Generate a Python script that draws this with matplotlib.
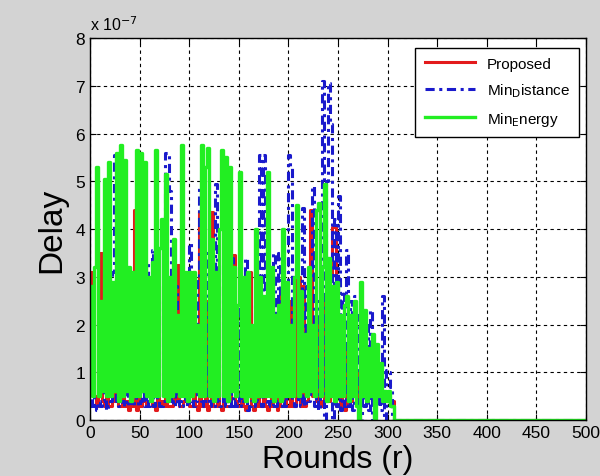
import numpy as np
import matplotlib
matplotlib.use('Agg')
import matplotlib.pyplot as plt

plt.rcParams['font.family'] = ['Liberation Sans', 'DejaVu Sans']

# delay values in units of 1e-7, one value every 2 rounds (0..304), then zero
proposed = [3.1, 2.8, 0.5, 0.3, 1.5, 3.5, 0.4, 0.3, 2.0, 0.3,
            0.3, 2.5, 0.4, 4.4, 0.3, 0.3, 3.2, 0.3, 0.4, 0.2,
            3.0, 0.3, 4.4, 0.2, 1.6, 0.3, 0.4, 3.3, 0.3, 0.4,
            2.5, 0.3, 0.3, 0.2, 2.8, 0.3, 0.4, 0.3, 3.0, 0.3,
            0.3, 0.3, 2.5, 0.4, 3.25, 0.3, 0.3, 0.4, 1.6, 1.5,
            0.3, 0.3, 2.0, 0.3, 0.2, 4.35, 0.3, 0.3, 2.5, 0.2,
            0.3, 4.35, 0.3, 0.3, 2.0, 0.3, 0.2, 2.8, 0.3, 0.3,
            0.3, 2.0, 3.45, 0.4, 0.3, 0.3, 2.2, 0.3, 0.2, 3.1,
            3.1, 0.3, 0.2, 0.3, 2.5, 0.3, 0.3, 2.0, 0.3, 0.2,
            0.3, 2.5, 0.3, 0.3, 0.2, 2.6, 0.3, 0.3, 1.8, 0.3,
            0.3, 2.5, 0.3, 0.3, 3.0, 3.0, 0.3, 2.8, 0.3, 0.4,
            2.5, 4.4, 0.5, 1.7, 0.4, 2.0, 0.3, 0.4, 2.5, 0.4,
            0.4, 3.0, 4.05, 4.05, 0.3, 0.3, 2.0, 0.3, 0.2, 1.6,
            0.3, 0.4, 1.2, 0.5, 0.4, 1.0, 0.5, 0.6, 1.1, 0.5,
            0.8, 1.0, 0.4, 0.8, 0.9, 0.8, 0.5, 0.6, 0.5, 0.4,
            0.5, 0.4, 0.4]
min_distance = [0.3, 0.5, 0.3, 0.2, 0.4, 0.3, 0.4, 2.7, 0.2, 0.3,
                0.4, 3.1, 5.55, 0.4, 0.3, 0.3, 0.4, 0.3, 2.8, 0.3,
                0.4, 0.3, 0.4, 3.0, 0.3, 0.4, 3.1, 0.3, 3.3, 0.3,
                0.4, 3.55, 0.3, 0.4, 2.5, 0.3, 0.3, 0.4, 5.6, 5.6,
                4.8, 0.4, 0.3, 2.8, 0.3, 0.4, 0.3, 0.4, 0.5, 0.3,
                3.7, 0.4, 0.3, 0.4, 3.0, 4.9, 0.4, 0.3, 0.4, 3.5,
                0.3, 0.4, 0.3, 4.95, 0.4, 0.3, 0.4, 3.3, 0.3, 0.4,
                0.3, 3.4, 0.3, 0.4, 0.3, 2.5, 0.3, 0.4, 3.4, 0.2,
                0.3, 0.4, 0.3, 2.5, 0.4, 5.55, 0.3, 5.55, 0.4, 0.3,
                0.4, 0.3, 3.5, 0.3, 0.4, 3.5, 0.3, 0.4, 0.3, 2.8,
                5.55, 5.3, 0.4, 0.3, 0.4, 2.6, 0.3, 4.45, 0.3, 2.8,
                0.4, 3.0, 4.9, 0.3, 2.5, 0.2, 2.8, 7.1, 0.0, 5.0,
                7.05, 6.2, 0.0, 4.2, 0.3, 4.7, 0.2, 2.7, 0.3, 3.55,
                0.3, 2.5, 0.2, 2.6, 0.3, 2.2, 0.0, 2.3, 0.3, 2.0,
                0.2, 2.3, 0.0, 1.4, 0.3, 0.6, 0.2, 2.6, 0.0, 1.05,
                1.0, 0.7, 0.0]
min_energy = [2.8, 0.5, 3.2, 5.3, 0.5, 2.5, 0.6, 5.05, 0.5, 5.4,
              0.5, 2.9, 0.6, 5.6, 0.4, 5.75, 0.5, 5.45, 0.6, 3.2,
              0.4, 3.1, 0.5, 5.65, 0.5, 5.6, 0.6, 5.4, 0.5, 3.0,
              0.4, 3.3, 0.5, 5.65, 0.5, 3.6, 4.2, 0.5, 5.15, 0.4,
              3.0, 0.5, 3.8, 0.6, 2.2, 0.5, 5.75, 0.5, 3.1, 0.4,
              3.1, 0.5, 3.1, 0.6, 2.0, 0.5, 5.75, 0.5, 5.3, 5.7,
              0.5, 3.8, 0.4, 3.1, 0.5, 4.0, 5.65, 0.5, 5.5, 0.4,
              5.3, 0.6, 3.2, 0.5, 2.4, 5.2, 0.5, 3.0, 0.4, 3.1,
              0.5, 2.0, 0.4, 4.0, 0.5, 3.0, 0.5, 2.6, 0.5, 5.2,
              0.5, 3.2, 0.4, 2.2, 0.5, 2.4, 0.4, 4.0, 0.5, 2.9,
              0.5, 2.0, 0.5, 3.0, 4.5, 0.5, 2.7, 0.6, 1.8, 0.5,
              3.2, 0.6, 2.0, 0.5, 4.4, 4.55, 0.5, 3.2, 4.95, 0.4,
              3.4, 0.5, 2.8, 0.4, 2.9, 0.5, 2.2, 0.5, 2.4, 2.6,
              0.4, 2.2, 0.5, 2.5, 0.3, 0.0, 2.9, 0.5, 2.3, 0.4,
              1.5, 0.5, 1.8, 0.0, 1.6, 0.5, 1.2, 0.4, 0.6, 0.4,
              0.6, 0.3, 0.3]
tail_rounds = [306, 500]
tail_delay = [0.0, 0.0]


def series(vals):
    x = list(np.arange(len(vals)) * 2) + tail_rounds
    y = list(vals) + tail_delay
    return x, y


fig = plt.figure(figsize=(6, 4.77), dpi=100, facecolor='#d3d3d3')
ax = fig.add_axes([0.15, 0.1174, 0.8267, 0.8008])

x, y = series(proposed)
ax.plot(x, y, color='#e31a1c', lw=2.2, drawstyle='steps-post', label='Proposed')
x, y = series(min_distance)
ax.plot(x, y, color='#1a1acc', lw=2.2, ls=(0, (3, 1.5, 1, 1.5)),
        drawstyle='steps-post', label=r'Min$_\mathrm{D}$istance')
x, y = series(min_energy)
ax.plot(x, y, color='#22ee22', lw=2.4, drawstyle='steps-post',
        label=r'Min$_\mathrm{E}$nergy')

ax.set_xlim(0, 500)
ax.set_ylim(0, 8)
ax.set_xticks(np.arange(0, 501, 50))
ax.set_yticks(np.arange(0, 9, 1))
ax.grid(True, color='black', ls=(0, (3, 3)), lw=0.8)
ax.tick_params(direction='in', top=True, right=True, labelsize=12.5, length=4)
for s in ax.spines.values():
    s.set_linewidth(1)

ax.set_xlabel('Rounds (r)', fontsize=23, labelpad=3)
ax.set_ylabel('Delay', fontsize=24, labelpad=6)
ax.text(0.0, 1.012, r'x 10$^{-7}$', transform=ax.transAxes, fontsize=11.5,
        va='bottom', ha='left')

leg = ax.legend(loc='upper right', bbox_to_anchor=(1.002, 0.995), fontsize=11,
                fancybox=False, framealpha=1, edgecolor='black',
                handlelength=3.3, borderpad=0.6, labelspacing=0.7)
leg.get_frame().set_linewidth(1)

plt.savefig('out.png', dpi=100, facecolor=fig.get_facecolor())
